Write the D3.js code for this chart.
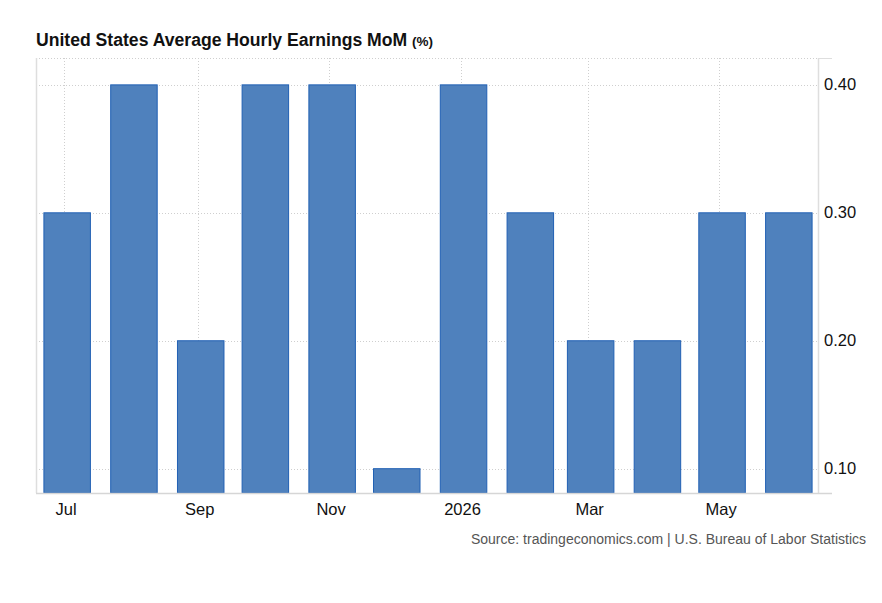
<!DOCTYPE html>
<html>
<head>
<meta charset="utf-8">
<script src="https://cdn.jsdelivr.net/npm/d3@7"></script>
<style>
	body { margin: 0; background: #fff; }
	svg { display: block; font-family: "Liberation Sans", Arial, sans-serif; }
</style>
</head>
<body>
<svg id="chart" width="882" height="603"></svg>
<script>
// monthly data, Jul 2025 - Jun 2026
var months = ["2025-07", "2025-08", "2025-09", "2025-10", "2025-11", "2025-12",
	"2026-01", "2026-02", "2026-03", "2026-04", "2026-05", "2026-06"];
var values = [0.3, 0.4, 0.2, 0.4, 0.4, 0.1, 0.4, 0.3, 0.2, 0.2, 0.3, 0.3];
var yTicks = [0.1, 0.2, 0.3, 0.4];

var parse = d3.timeParse("%Y-%m");
var data = months.map(function (m, i) {
	return { date: parse(m), value: values[i] };
});

var svg = d3.select("#chart");
var plotLeft = 36, plotRight = 818, plotTop = 58, plotBottom = 493;

var xScale = d3.scaleTime()
	.domain([d3.timeDay.offset(data[0].date, -14), d3.timeDay.offset(data[data.length - 1].date, 14)])
	.range([plotLeft, plotRight]);
var yScale = d3.scaleLinear()
	.domain([0.081, 0.421])
	.range([plotBottom, plotTop]);

var barWidth = 46.5;
var xTicks = xScale.ticks(d3.timeMonth.every(2));
var fmtX = function (d) {
	return d.getMonth() === 0 ? d3.timeFormat("%Y")(d) : d3.timeFormat("%b")(d);
};

// grid
var grid = svg.append("g").attr("stroke", "#cfcfcf").attr("stroke-dasharray", "1,2");
grid.selectAll("line.h")
		.data(yTicks)
		.enter()
	.append("line")
		.attr("x1", plotLeft).attr("x2", plotRight)
		.attr("y1", function (d) { return Math.round(yScale(d)) + 0.5; })
		.attr("y2", function (d) { return Math.round(yScale(d)) + 0.5; });
grid.selectAll("line.v")
		.data(xTicks)
		.enter()
	.append("line")
		.attr("x1", function (d) { return Math.round(xScale(d)) - 1.5; })
		.attr("x2", function (d) { return Math.round(xScale(d)) - 1.5; })
		.attr("y1", plotTop).attr("y2", plotBottom);
grid.append("line")
	.attr("x1", plotLeft).attr("x2", plotRight)
	.attr("y1", plotTop + 0.5).attr("y2", plotTop + 0.5);

// borders
svg.append("line").attr("x1", plotLeft + 0.5).attr("x2", plotLeft + 0.5).attr("y1", plotTop).attr("y2", plotBottom)
	.attr("stroke", "#dedede").attr("stroke-width", 1.5);
svg.append("line").attr("x1", plotRight + 0.5).attr("x2", plotRight + 0.5).attr("y1", plotTop).attr("y2", plotBottom)
	.attr("stroke", "#dedede").attr("stroke-width", 1.5);
svg.append("line").attr("x1", plotRight).attr("x2", 832).attr("y1", plotTop + 0.5).attr("y2", plotTop + 0.5)
	.attr("stroke", "#dedede");

// bars
svg.append("g").selectAll("rect")
		.data(data)
		.enter()
	.append("rect")
		.attr("x", function (d) { return xScale(d.date) + 1 - barWidth / 2; })
		.attr("y", function (d) { return yScale(d.value); })
		.attr("width", barWidth)
		.attr("height", function (d) { return plotBottom - yScale(d.value); })
		.attr("fill", "#4f81bd")
		.attr("stroke", "#2160b4")
		.attr("stroke-width", 1);

// bottom axis line
svg.append("line").attr("x1", plotLeft).attr("x2", 832).attr("y1", plotBottom + 0.5).attr("y2", plotBottom + 0.5)
	.attr("stroke", "#d6d6d6").attr("stroke-width", 1.5);

// x labels
svg.append("g").selectAll("text")
		.data(xTicks)
		.enter()
	.append("text")
		.attr("x", function (d) { return xScale(d); })
		.attr("y", 515)
		.attr("text-anchor", "middle")
		.attr("font-size", 16.5)
		.attr("fill", "#111")
		.text(fmtX);

// y labels
svg.append("g").selectAll("text")
		.data(yTicks)
		.enter()
	.append("text")
		.attr("x", 824)
		.attr("y", function (d) { return yScale(d) + 5.5; })
		.attr("font-size", 16.5)
		.attr("fill", "#111")
		.text(d3.format(".2f"));

// title
var title = svg.append("text")
	.attr("x", 36)
	.attr("y", 46)
	.attr("font-size", 17.6)
	.attr("font-weight", "bold")
	.attr("fill", "#111");
title.append("tspan").text("United States Average Hourly Earnings MoM ");
title.append("tspan").attr("font-size", 13.5).text("(%)");

// source
svg.append("text")
	.attr("x", 866)
	.attr("y", 544)
	.attr("text-anchor", "end")
	.attr("font-size", 14)
	.attr("fill", "#555")
	.text("Source: tradingeconomics.com | U.S. Bureau of Labor Statistics");
</script>
</body>
</html>
